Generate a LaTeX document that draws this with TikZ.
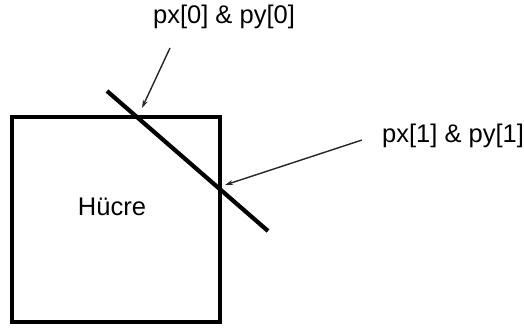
\documentclass[tikz,border=0pt]{standalone}
\usepackage{fontspec}
\setmainfont{Liberation Sans}
\usepackage{tikz}
\usetikzlibrary{arrows.meta}

\begin{document}
\begin{tikzpicture}[x=1pt,y=-1pt,>={Stealth[length=8pt,width=5pt]}]
  \tikzstyle{thick line}=[line width=4.2pt]
  \tikzstyle{pointer}=[->,line width=1.4pt,black!85]
  \tikzstyle{label}=[font=\fontsize{25.5}{30}\selectfont,inner sep=0pt]
  \useasboundingbox (0,0) rectangle (524,329);

  \coordinate (C1) at (12,117);
  \coordinate (C2) at (220,322);
  \coordinate (L1) at (107,91);
  \coordinate (L2) at (268,231);
  \coordinate (A0) at (170,48);
  \coordinate (P0) at (142,108);
  \coordinate (A1) at (362,140);
  \coordinate (P1) at (225,185);

  \node[label] (T0) at (224,17) {px[0] \& py[0]};
  \node[label,anchor=west] (T1) at (382,136) {px[1] \& py[1]};
  \node[label] (cell) at (112,207) {Hücre};

  \draw[thick line] (C1) rectangle (C2);
  \draw[thick line] (L1) -- (L2);

  \draw[pointer] (A0) -- (P0);
  \draw[pointer] (A1) -- (P1);
\end{tikzpicture}
\end{document}
